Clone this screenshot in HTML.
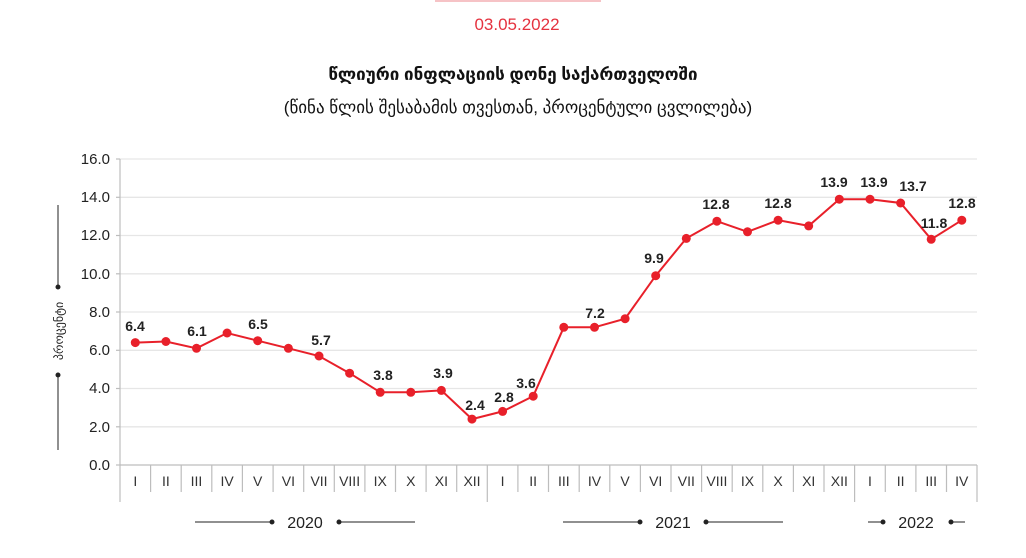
<!DOCTYPE html>
<html><head><meta charset="utf-8"><style>
body{margin:0;background:#fff;}
svg text{font-family:"Liberation Sans","DejaVu Sans",sans-serif;}
</style></head><body>
<svg width="1026" height="553" viewBox="0 0 1026 553" xmlns="http://www.w3.org/2000/svg">
<rect x="435" y="0" width="166" height="2" fill="#f6c3c6"/>
<text x="517" y="30" text-anchor="middle" font-size="17" fill="#e5323f">03.05.2022</text>
<text x="513" y="80" text-anchor="middle" font-size="17" font-weight="bold" fill="#111" font-family="DejaVu Sans,sans-serif">წლიური ინფლაციის დონე  საქართველოში</text>
<text x="518" y="113" text-anchor="middle" font-size="17" fill="#111" font-family="DejaVu Sans,sans-serif">(წინა წლის შესაბამის თვესთან, პროცენტული ცვლილება)</text>
<g stroke="#e6e6e6" stroke-width="1.3">
<line x1="120" y1="159" x2="977" y2="159"/><line x1="120" y1="197.3" x2="977" y2="197.3"/><line x1="120" y1="235.5" x2="977" y2="235.5"/><line x1="120" y1="273.8" x2="977" y2="273.8"/><line x1="120" y1="312" x2="977" y2="312"/><line x1="120" y1="350.3" x2="977" y2="350.3"/><line x1="120" y1="388.5" x2="977" y2="388.5"/><line x1="120" y1="426.8" x2="977" y2="426.8"/>
</g>
<g stroke="#bdbdbd" stroke-width="1.2">
<line x1="120" y1="159" x2="120" y2="502"/>
<line x1="120" y1="465" x2="977" y2="465"/>
<line x1="116" y1="159" x2="120" y2="159"/><line x1="116" y1="197.3" x2="120" y2="197.3"/><line x1="116" y1="235.5" x2="120" y2="235.5"/><line x1="116" y1="273.8" x2="120" y2="273.8"/><line x1="116" y1="312" x2="120" y2="312"/><line x1="116" y1="350.3" x2="120" y2="350.3"/><line x1="116" y1="388.5" x2="120" y2="388.5"/><line x1="116" y1="426.8" x2="120" y2="426.8"/><line x1="116" y1="465" x2="120" y2="465"/>
<line x1="150.6" y1="465" x2="150.6" y2="492"/><line x1="181.2" y1="465" x2="181.2" y2="492"/><line x1="211.8" y1="465" x2="211.8" y2="492"/><line x1="242.4" y1="465" x2="242.4" y2="492"/><line x1="273.1" y1="465" x2="273.1" y2="492"/><line x1="303.7" y1="465" x2="303.7" y2="492"/><line x1="334.3" y1="465" x2="334.3" y2="492"/><line x1="364.9" y1="465" x2="364.9" y2="492"/><line x1="395.5" y1="465" x2="395.5" y2="492"/><line x1="426.1" y1="465" x2="426.1" y2="492"/><line x1="456.7" y1="465" x2="456.7" y2="492"/>
<line x1="487.3" y1="465" x2="487.3" y2="502"/>
<line x1="517.9" y1="465" x2="517.9" y2="492"/><line x1="548.5" y1="465" x2="548.5" y2="492"/><line x1="579.2" y1="465" x2="579.2" y2="492"/><line x1="609.8" y1="465" x2="609.8" y2="492"/><line x1="640.4" y1="465" x2="640.4" y2="492"/><line x1="671" y1="465" x2="671" y2="492"/><line x1="701.6" y1="465" x2="701.6" y2="492"/><line x1="732.2" y1="465" x2="732.2" y2="492"/><line x1="762.8" y1="465" x2="762.8" y2="492"/><line x1="793.4" y1="465" x2="793.4" y2="492"/><line x1="824" y1="465" x2="824" y2="492"/>
<line x1="854.6" y1="465" x2="854.6" y2="502"/>
<line x1="885.3" y1="465" x2="885.3" y2="492"/><line x1="915.9" y1="465" x2="915.9" y2="492"/><line x1="946.5" y1="465" x2="946.5" y2="492"/>
<line x1="977" y1="465" x2="977" y2="502"/>
</g>
<g font-size="15" fill="#222" text-anchor="end">
<text x="110" y="164">16.0</text><text x="110" y="202">14.0</text><text x="110" y="240">12.0</text><text x="110" y="279">10.0</text><text x="110" y="317">8.0</text><text x="110" y="355">6.0</text><text x="110" y="393">4.0</text><text x="110" y="432">2.0</text><text x="110" y="470">0.0</text>
</g>
<g font-size="14" fill="#333" text-anchor="middle">
<text x="135.3" y="486">I</text><text x="165.9" y="486">II</text><text x="196.5" y="486">III</text><text x="227.1" y="486">IV</text><text x="257.7" y="486">V</text><text x="288.4" y="486">VI</text><text x="319" y="486">VII</text><text x="349.6" y="486">VIII</text><text x="380.2" y="486">IX</text><text x="410.8" y="486">X</text><text x="441.4" y="486">XI</text><text x="472" y="486">XII</text>
<text x="502.6" y="486">I</text><text x="533.2" y="486">II</text><text x="563.8" y="486">III</text><text x="594.5" y="486">IV</text><text x="625.1" y="486">V</text><text x="655.7" y="486">VI</text><text x="686.3" y="486">VII</text><text x="716.9" y="486">VIII</text><text x="747.5" y="486">IX</text><text x="778.1" y="486">X</text><text x="808.7" y="486">XI</text><text x="839.3" y="486">XII</text>
<text x="870" y="486">I</text><text x="900.6" y="486">II</text><text x="931.2" y="486">III</text><text x="961.8" y="486">IV</text>
</g>
<g stroke="#222" stroke-width="1" fill="#222">
<line x1="195" y1="522" x2="272" y2="522"/><circle cx="272" cy="522" r="2"/><circle cx="339" cy="522" r="2"/><line x1="339" y1="522" x2="415" y2="522"/>
<line x1="563" y1="522" x2="640" y2="522"/><circle cx="640" cy="522" r="2"/><circle cx="706" cy="522" r="2"/><line x1="706" y1="522" x2="783" y2="522"/>
<line x1="868" y1="522" x2="883" y2="522"/><circle cx="883" cy="522" r="2"/><circle cx="951" cy="522" r="2"/><line x1="951" y1="522" x2="965" y2="522"/>
<line x1="58" y1="205" x2="58" y2="287"/><circle cx="58" cy="287" r="2"/><circle cx="58" cy="375" r="2"/><line x1="58" y1="375" x2="58" y2="450"/>
</g>
<g font-size="16" fill="#222" text-anchor="middle">
<text x="305" y="528">2020</text><text x="673" y="528">2021</text><text x="916" y="528">2022</text>
</g>
<text transform="translate(63,331) rotate(-90)" text-anchor="middle" font-size="12" fill="#222" font-family="DejaVu Sans,sans-serif">პროცენტი</text>
<polyline fill="none" stroke="#e8202a" stroke-width="2" points="135.3,342.6 165.9,341.5 196.5,348.3 227.1,333 257.7,340.7 288.4,348.3 319,356 349.6,373.2 380.2,392.3 410.8,392.3 441.4,390.4 472,419.1 502.6,411.4 533.2,396.2 563.8,327.3 594.5,327.3 625.1,318.7 655.7,275.7 686.3,238.4 716.9,221.2 747.5,231.8 778.1,220.2 808.7,225.9 839.3,199.2 870,199.2 900.6,203 931.2,239.3 961.8,220.2"/>
<g fill="#e8202a">
<circle cx="135.3" cy="342.6" r="4.5"/><circle cx="165.9" cy="341.5" r="4.5"/><circle cx="196.5" cy="348.3" r="4.5"/><circle cx="227.1" cy="333" r="4.5"/><circle cx="257.7" cy="340.7" r="4.5"/><circle cx="288.4" cy="348.3" r="4.5"/><circle cx="319" cy="356" r="4.5"/><circle cx="349.6" cy="373.2" r="4.5"/><circle cx="380.2" cy="392.3" r="4.5"/><circle cx="410.8" cy="392.3" r="4.5"/><circle cx="441.4" cy="390.4" r="4.5"/><circle cx="472" cy="419.1" r="4.5"/><circle cx="502.6" cy="411.4" r="4.5"/><circle cx="533.2" cy="396.2" r="4.5"/><circle cx="563.8" cy="327.3" r="4.5"/><circle cx="594.5" cy="327.3" r="4.5"/><circle cx="625.1" cy="318.7" r="4.5"/><circle cx="655.7" cy="275.7" r="4.5"/><circle cx="686.3" cy="238.4" r="4.5"/><circle cx="716.9" cy="221.2" r="4.5"/><circle cx="747.5" cy="231.8" r="4.5"/><circle cx="778.1" cy="220.2" r="4.5"/><circle cx="808.7" cy="225.9" r="4.5"/><circle cx="839.3" cy="199.2" r="4.5"/><circle cx="870" cy="199.2" r="4.5"/><circle cx="900.6" cy="203" r="4.5"/><circle cx="931.2" cy="239.3" r="4.5"/><circle cx="961.8" cy="220.2" r="4.5"/>
</g>
<g font-size="14" font-weight="bold" fill="#222" text-anchor="middle">
<text x="135" y="331">6.4</text><text x="197" y="336">6.1</text><text x="258" y="329">6.5</text><text x="321" y="345">5.7</text><text x="383" y="380">3.8</text><text x="443" y="378">3.9</text><text x="475" y="410">2.4</text><text x="504" y="402">2.8</text><text x="526" y="388">3.6</text><text x="595" y="318">7.2</text><text x="654" y="263">9.9</text><text x="716" y="209">12.8</text><text x="778" y="208">12.8</text><text x="834" y="187">13.9</text><text x="874" y="187">13.9</text><text x="913" y="191">13.7</text><text x="934" y="228">11.8</text><text x="962" y="208">12.8</text>
</g>
</svg>
</body></html>
